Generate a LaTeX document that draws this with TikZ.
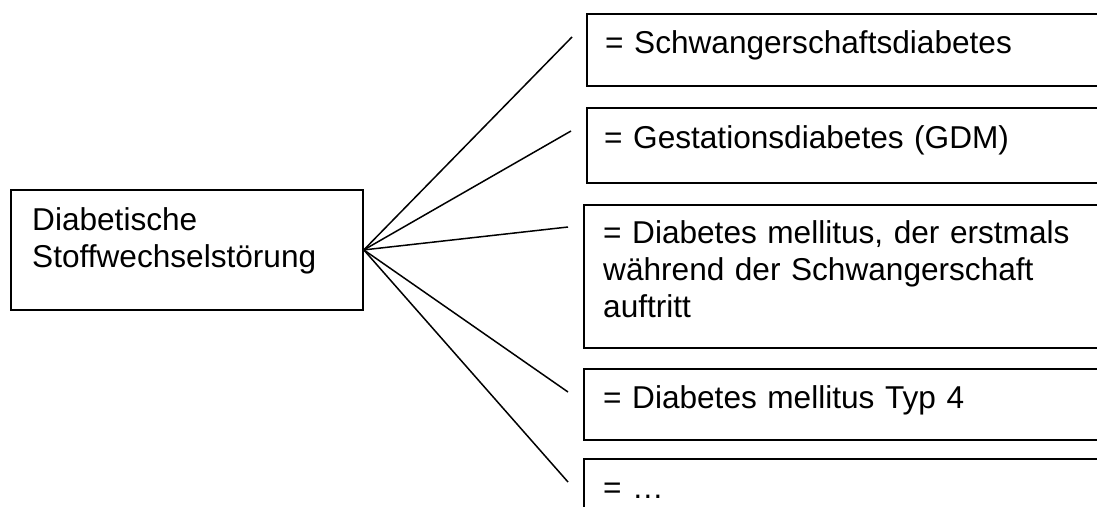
\documentclass[tikz,border=0pt]{standalone}
\usepackage{fontspec}
\setmainfont{Liberation Sans}
\begin{document}
\begin{tikzpicture}[x=1pt,y=-1pt,
  box/.style={draw=black, line width=1.8pt, anchor=north west, inner sep=0pt, minimum width=#1},
  box/.default=560,
  txt/.style={anchor=base west, inner sep=0pt, text width=490pt, align=left,
              font=\fontsize{31.6}{37}\selectfont},
  link/.style={draw=black, line width=1.5pt}]
  \useasboundingbox (0,0) rectangle (1097,506);
  \clip (0,0) rectangle (1097,506);

  % source box
  \node[box=352, minimum height=120pt] (src) at (10,189) {};
  \node[txt] (srct) at (32,230) {Diabetische\\Stoffwechselstörung};

  % target boxes, running out past the right edge
  \node[box, minimum height=72pt]  (b1) at (586,13)  {};
  \node[box, minimum height=75pt]  (b2) at (586,107) {};
  \node[box, minimum height=143pt] (b3) at (583,204) {};
  \node[box, minimum height=71pt]  (b4) at (583,368) {};
  \node[box, minimum height=90pt]  (b5) at (583,458) {};

  \node[txt] (t1) at (605,53)  {= Schwangerschaftsdiabetes};
  \node[txt] (t2) at (604,148) {= Gestationsdiabetes (GDM)};
  \node[txt] (t3) at (603,243) {= Diabetes mellitus, der erstmals\\während der Schwangerschaft\\auftritt};
  \node[txt] (t4) at (603,408) {= Diabetes mellitus Typ 4};
  \node[txt] (t5) at (603,498) {= …};

  % free ends of the fan of connectors
  \coordinate (e1) at (572,37);
  \coordinate (e2) at (571,131);
  \coordinate (e3) at (568,227);
  \coordinate (e4) at (568,392);
  \coordinate (e5) at (568,482);

  \foreach \e in {e1,e2,e3,e4,e5}
    \draw[link] (src.east) -- (\e);
\end{tikzpicture}
\end{document}
